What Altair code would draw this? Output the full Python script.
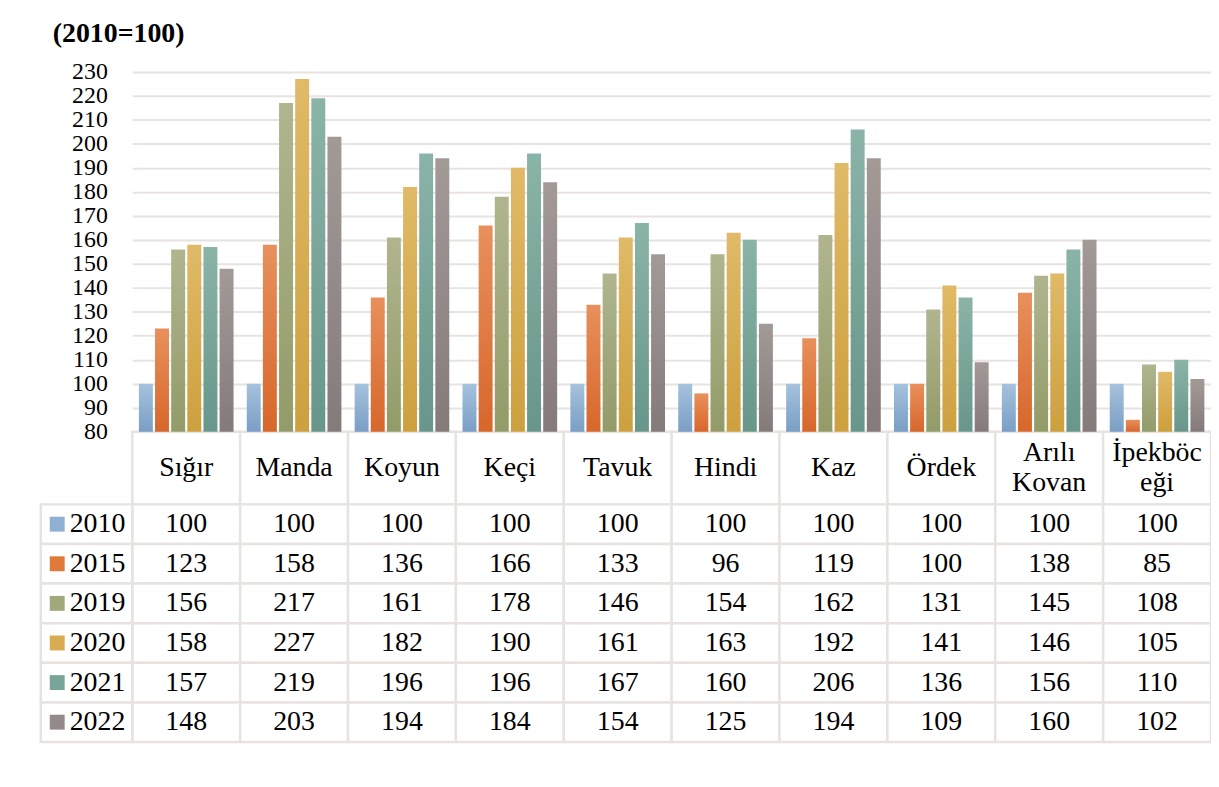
import altair as alt
import pandas as pd

categories = ["Sığır", "Manda", "Koyun", "Keçi", "Tavuk", "Hindi", "Kaz", "Ördek", "Arılı Kovan", "İpekböceği"]
header_labels = ["Sığır", "Manda", "Koyun", "Keçi", "Tavuk", "Hindi", "Kaz", "Ördek", "Arılı\nKovan", "İpekböc\neği"]
years = ["2010", "2015", "2019", "2020", "2021", "2022"]

v2010 = [100, 100, 100, 100, 100, 100, 100, 100, 100, 100]
v2015 = [123, 158, 136, 166, 133, 96, 119, 100, 138, 85]
v2019 = [156, 217, 161, 178, 146, 154, 162, 131, 145, 108]
v2020 = [158, 227, 182, 190, 161, 163, 192, 141, 146, 105]
v2021 = [157, 219, 196, 196, 167, 160, 206, 136, 156, 110]
v2022 = [148, 203, 194, 184, 154, 125, 194, 109, 160, 102]
series = [v2010, v2015, v2019, v2020, v2021, v2022]

y_ticks = [80, 90, 100, 110, 120, 130, 140, 150, 160, 170, 180, 190, 200, 210, 220, 230]

# styling
FONT = "Liberation Serif"
BORDER = "#e8e3e0"
top_colors = ["#a5c2dd", "#e8905c", "#b0b58f", "#e0ba68", "#8bb4a8", "#a39a98"]
bot_colors = ["#7a9ec5", "#d7672b", "#939b68", "#cda03e", "#68968a", "#857a7a"]
mid_colors = ["#8fb0d2", "#e07a3b", "#a1a87b", "#d8ad52", "#79a598", "#948a89"]
FS = 28

W = 1085
PLOT_H = 362
HEAD_B = 435
TOTAL_H = 674

rows = []
for y, vals in zip(years, series):
    for c, v in zip(categories, vals):
        rows.append({"cat": c, "year": y, "value": v})
df = pd.DataFrame(rows)
head_df = pd.DataFrame({"cat": categories, "label": header_labels})
year_df = pd.DataFrame({"year": years})

xs = alt.Scale(domain=categories, paddingInner=0, paddingOuter=0)
x_enc = alt.X("cat:N", scale=xs, axis=None, sort=categories)
ys_bar = alt.Scale(domain=[80, 230], range=[PLOT_H, 0], zero=False, nice=False)

layers = []

# table: header cells
head_y = alt.Y("row:N", scale=alt.Scale(domain=["h"], range=[PLOT_H, HEAD_B], paddingInner=0, paddingOuter=0), axis=None)
layers.append(
    alt.Chart(head_df).transform_calculate(row="'h'")
    .mark_rect(fill="white", stroke=BORDER, strokeWidth=2.5)
    .encode(x=x_enc, y=head_y)
)
layers.append(
    alt.Chart(head_df).transform_calculate(row="'h'")
    .transform_filter("indexof(datum.label, '\\n') < 0")
    .mark_text(font=FONT, fontSize=FS, color="black", baseline="middle")
    .encode(x=x_enc, y=head_y, text="label:N")
)
layers.append(
    alt.Chart(head_df).transform_calculate(row="'h'")
    .transform_filter("indexof(datum.label, '\\n') >= 0")
    .mark_text(font=FONT, fontSize=FS, color="black", lineBreak="\n", lineHeight=30,
               baseline="middle", dy=-15)
    .encode(x=x_enc, y=head_y, text="label:N")
)

# table: data cells
row_y = alt.Y("year:N", scale=alt.Scale(domain=years, range=[HEAD_B, TOTAL_H], paddingInner=0, paddingOuter=0), axis=None)
layers.append(
    alt.Chart(df).mark_rect(fill="white", stroke=BORDER, strokeWidth=2.5)
    .encode(x=x_enc, y=row_y)
)
layers.append(
    alt.Chart(df).mark_text(font=FONT, fontSize=FS, color="black", baseline="middle")
    .encode(x=x_enc, y=row_y, text="value:Q")
)

# legend column
leg_x = alt.X("col:N", scale=alt.Scale(domain=["leg"], range=[-92, 0], paddingInner=0, paddingOuter=0), axis=None)
layers.append(
    alt.Chart(year_df).transform_calculate(col="'leg'")
    .mark_rect(fill="white", stroke=BORDER, strokeWidth=2.5)
    .encode(x=leg_x, y=row_y)
)
layers.append(
    alt.Chart(year_df).transform_calculate(col="'leg'")
    .mark_square(size=225, opacity=1, xOffset=-29.5)
    .encode(x=leg_x, y=row_y,
            color=alt.Color("year:N", scale=alt.Scale(domain=years, range=mid_colors), legend=None))
)
layers.append(
    alt.Chart(year_df).transform_calculate(col="'leg'")
    .mark_text(font=FONT, fontSize=FS, color="black", align="left", baseline="middle", dx=-17)
    .encode(x=leg_x, y=row_y, text="year:N")
)

# bars, one layer per year with a vertical gradient
for i, y in enumerate(years):
    grad = alt.Gradient(
        gradient="linear",
        stops=[alt.GradientStop(color=top_colors[i], offset=0),
               alt.GradientStop(color=bot_colors[i], offset=1)],
        x1=0, x2=0, y1=0, y2=1,
    )
    if i == 0:
        yaxis = alt.Axis(values=y_ticks, labelFont=FONT, labelFontSize=24, labelColor="black",
                         ticks=False, domain=False, labelPadding=25, grid=True,
                         gridColor=BORDER, gridWidth=2, labelOverlap=False, labelFlush=False,
                         title=None)
    else:
        yaxis = None
    layers.append(
        alt.Chart(df).transform_filter(alt.datum.year == y)
        .mark_bar(color=grad)
        .encode(
            x=x_enc,
            xOffset=alt.XOffset("year:N", scale=alt.Scale(domain=years, paddingInner=0.136, paddingOuter=0.41)),
            y=alt.Y("value:Q", scale=ys_bar, axis=yaxis),
            y2=alt.datum(80),
        )
    )

chart = alt.layer(*layers).resolve_scale(x="independent", y="independent").properties(
    width=W,
    height=TOTAL_H,
    autosize=alt.AutoSizeParams(type="none"),
    padding={"left": 125, "top": 62, "right": 0, "bottom": 40},
    title=alt.TitleParams("(2010=100)", anchor="start", frame="group", dx=-80, fontSize=28,
                          fontWeight="bold", font=FONT, color="black", offset=12),
).configure_view(stroke=None)

chart.save("out.html", embed_options={"renderer": "svg", "actions": False})
